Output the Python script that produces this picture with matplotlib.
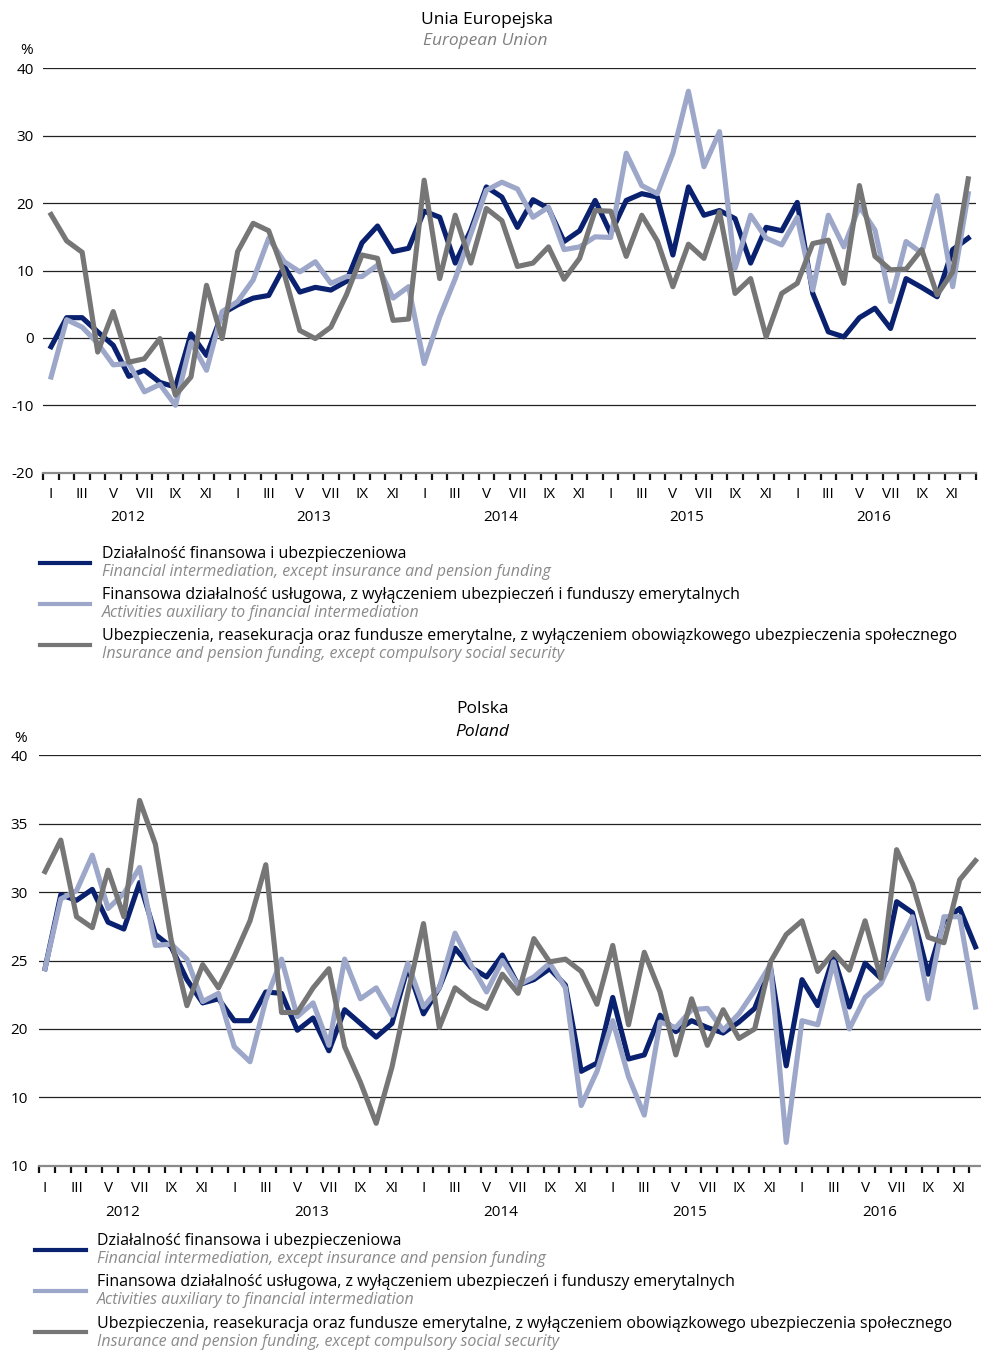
import matplotlib
matplotlib.use('Agg')
import matplotlib.pyplot as plt
from matplotlib.lines import Line2D
from matplotlib.transforms import blended_transform_factory
import numpy as np

plt.rcParams['font.family'] = ['Open Sans', 'DejaVu Sans']

W, H = 981, 1350

years = ['2012', '2013', '2014', '2015', '2016']
month_labels = ['I', 'III', 'V', 'VII', 'IX', 'XI']

# Unia Europejska, monthly 2012-2016 (%)
eu_fin = [-1.3, 3.0, 3.0, 0.9, -1.1, -5.7, -4.8, -6.6, -7.3, 0.6, -2.6, 3.6,
          4.9, 5.9, 6.3, 10.6, 6.8, 7.5, 7.1, 8.4, 14.1, 16.6, 12.8, 13.3,
          18.8, 17.9, 11.1, 16.0, 22.4, 20.9, 16.4, 20.5, 19.2, 14.3, 15.9, 20.4,
          15.5, 20.4, 21.4, 20.9, 12.3, 22.4, 18.2, 18.9, 17.7, 11.1, 16.4, 15.9,
          20.1, 6.6, 0.9, 0.15, 3.0, 4.4, 1.4, 8.8, 7.5, 6.1, 13.1, 14.8]
eu_aux = [-5.8, 2.7, 1.6, -0.8, -4.0, -3.8, -8.0, -6.9, -10.0, -0.6, -4.8, 3.9,
          5.4, 8.6, 14.8, 11.3, 9.8, 11.3, 8.1, 9.1, 9.1, 10.8, 5.9, 7.6,
          -3.8, 3.1, 8.8, 15.4, 21.9, 23.1, 22.1, 17.9, 19.4, 13.1, 13.5, 15.0,
          14.9, 27.4, 22.6, 21.4, 27.4, 36.6, 25.4, 30.6, 10.3, 18.2, 14.8, 13.8,
          17.9, 7.1, 18.2, 13.5, 19.5, 16.0, 5.4, 14.3, 12.6, 21.1, 7.6, 21.4]
eu_ins = [18.3, 14.4, 12.7, -2.1, 3.9, -3.6, -3.1, -0.1, -8.5, -5.8, 7.8, -0.1,
          12.8, 17.0, 15.9, 9.5, 1.1, -0.1, 1.6, 6.4, 12.3, 11.8, 2.6, 2.8,
          23.4, 8.8, 18.2, 11.1, 19.2, 17.4, 10.6, 11.1, 13.5, 8.7, 11.8, 18.9,
          18.8, 12.1, 18.2, 14.4, 7.6, 13.9, 11.8, 18.7, 6.6, 8.8, 0.15, 6.6,
          8.1, 14.0, 14.5, 8.1, 22.6, 12.1, 10.1, 10.2, 13.1, 6.4, 9.8, 23.6]

# Polska, monthly 2012-2016 (%)
pl_fin = [24.4, 29.8, 29.4, 30.2, 27.8, 27.3, 30.7, 26.9, 26.0, 23.6, 21.9, 22.2,
          20.6, 20.6, 22.7, 22.6, 19.9, 20.8, 18.4, 21.4, 20.4, 19.4, 20.4, 24.5,
          21.1, 23.0, 25.9, 24.5, 23.8, 25.4, 23.2, 23.6, 24.4, 23.2, 16.9, 17.5,
          22.3, 17.8, 18.1, 21.0, 19.8, 20.6, 20.1, 19.7, 20.5, 21.5, 24.5, 17.3,
          23.6, 21.7, 25.3, 21.6, 24.8, 23.7, 29.3, 28.5, 24.0, 27.9, 28.8, 26.0]
pl_aux = [24.4, 29.5, 30.1, 32.7, 28.8, 29.9, 31.8, 26.1, 26.2, 25.1, 22.0, 22.6,
          18.7, 17.6, 22.1, 25.1, 20.9, 21.9, 18.8, 25.1, 22.2, 23.0, 21.0, 24.8,
          21.6, 23.0, 27.0, 24.7, 22.7, 25.0, 23.2, 23.8, 24.8, 23.0, 14.4, 16.9,
          20.6, 16.5, 13.7, 20.5, 20.1, 21.4, 21.5, 19.9, 21.1, 22.8, 24.7, 11.7,
          20.6, 20.3, 24.9, 20.0, 22.3, 23.3, 25.8, 28.2, 22.2, 28.2, 28.2, 21.6]
pl_ins = [31.5, 33.8, 28.2, 27.4, 31.6, 28.2, 36.7, 33.5, 26.5, 21.7, 24.7, 23.0,
          25.3, 27.9, 32.0, 21.2, 21.2, 23.0, 24.4, 18.7, 16.1, 13.1, 17.2, 22.6,
          27.7, 20.1, 23.0, 22.1, 21.5, 24.0, 22.6, 26.6, 24.9, 25.1, 24.2, 21.8,
          26.1, 20.3, 25.6, 22.7, 18.1, 22.2, 18.8, 21.4, 19.3, 20.0, 24.9, 26.9,
          27.9, 24.2, 25.6, 24.3, 27.9, 23.7, 33.1, 30.6, 26.7, 26.3, 30.9, 32.3]

eu_yticks = [-20, -10, 0, 10, 20, 30, 40]
pl_yticks = [10, 15, 20, 25, 30, 35, 40]
pl_ylabels = ['10', '10', '20', '25', '30', '35', '40']

leg_pl = ['Działalność finansowa i ubezpieczeniowa',
          'Finansowa działalność usługowa, z wyłączeniem ubezpieczeń i funduszy emerytalnych',
          'Ubezpieczenia, reasekuracja oraz fundusze emerytalne, z wyłączeniem obowiązkowego ubezpieczenia społecznego']
leg_en = ['Financial intermediation, except insurance and pension funding',
          'Activities auxiliary to financial intermediation',
          'Insurance and pension funding, except compulsory social security']

c_fin = '#0a2170'
c_aux = '#9ca7c9'
c_ins = '#767676'
colors = [c_fin, c_aux, c_ins]


def fx(px):
    return px / W


def fy(py):
    return 1 - py / H


fig = plt.figure(figsize=(W / 100, H / 100), dpi=100)


def panel(x0, x1, ytop, ybot, xlim, ylim, yticks, ylabels, series, tick_off,
          ntick, month_y, year_y, ypad):
    ax = fig.add_axes([fx(x0), fy(ybot), fx(x1 - x0), (ybot - ytop) / H])
    ax.set_xlim(*xlim)
    ax.set_ylim(*ylim)
    for s in ['top', 'right', 'left']:
        ax.spines[s].set_visible(False)
    ax.spines['bottom'].set_color('#8a8a8a')
    ax.spines['bottom'].set_linewidth(1.6)
    for v in yticks[1:]:
        ax.axhline(v, color='#222222', lw=0.9, zorder=1)
    ax.set_yticks(yticks)
    ax.set_yticklabels(ylabels, fontsize=11)
    ax.tick_params(axis='y', length=0, pad=ypad)
    x = np.arange(60)
    ax.set_xticks(np.arange(ntick) + tick_off)
    ax.set_xticklabels([])
    ax.tick_params(axis='x', direction='out', length=5, width=1.6, color='#111111')
    for vals, c in zip(series, colors):
        ax.plot(x, vals, color=c, lw=3.7, solid_joinstyle='round', zorder=3)
    tr = blended_transform_factory(ax.transData, fig.transFigure)
    for k in range(5):
        for j, m in enumerate(month_labels):
            ax.text(12 * k + 2 * j, fy(month_y), m, transform=tr, ha='center',
                    va='center', fontsize=11)
        ax.text(12 * k + 4.9, fy(year_y), years[k], transform=tr, ha='center',
                va='center', fontsize=11)
    return ax


panel(43.3, 976, 68.3, 472.7, (-0.5, 59.5), (-20, 40), eu_yticks,
      [str(v) for v in eu_yticks], [eu_fin, eu_aux, eu_ins], -0.5, 61, 494, 518, 7)
panel(39, 981, 755.3, 1165.7, (-0.38, 59.35), (10, 40), pl_yticks, pl_ylabels,
      [pl_fin, pl_aux, pl_ins], -0.38, 60, 1188, 1212, 8)

fig.text(fx(487), fy(20), 'Unia Europejska', ha='center', va='center', fontsize=12.5)
fig.text(fx(485), fy(41), 'European Union', ha='center', va='center', fontsize=12.5,
         style='italic', color='#808080')
fig.text(fx(27), fy(51), '%', ha='center', va='center', fontsize=11)
fig.text(fx(482), fy(709), 'Polska', ha='center', va='center', fontsize=12.5)
fig.text(fx(482), fy(732), 'Poland', ha='center', va='center', fontsize=12.5,
         style='italic')
fig.text(fx(21), fy(738), '%', ha='center', va='center', fontsize=11)


def legend(lx0, lx1, tx, rows):
    for (ly, t1, t2), c, pl, en in zip(rows, colors, leg_pl, leg_en):
        fig.add_artist(Line2D([fx(lx0), fx(lx1)], [fy(ly), fy(ly)], color=c, lw=3,
                              transform=fig.transFigure))
        fig.text(fx(tx), fy(t1), pl, ha='left', va='center', fontsize=11.5)
        fig.text(fx(tx), fy(t2), en, ha='left', va='center', fontsize=11.5,
                 style='italic', color='#8a8a8a')


legend(40, 90, 102, [(563, 554, 572), (604, 595, 613), (645, 636, 654)])
legend(35, 86, 97, [(1250, 1241, 1259), (1291, 1282, 1300), (1332, 1324, 1342)])

fig.savefig('out.png', dpi=100)
